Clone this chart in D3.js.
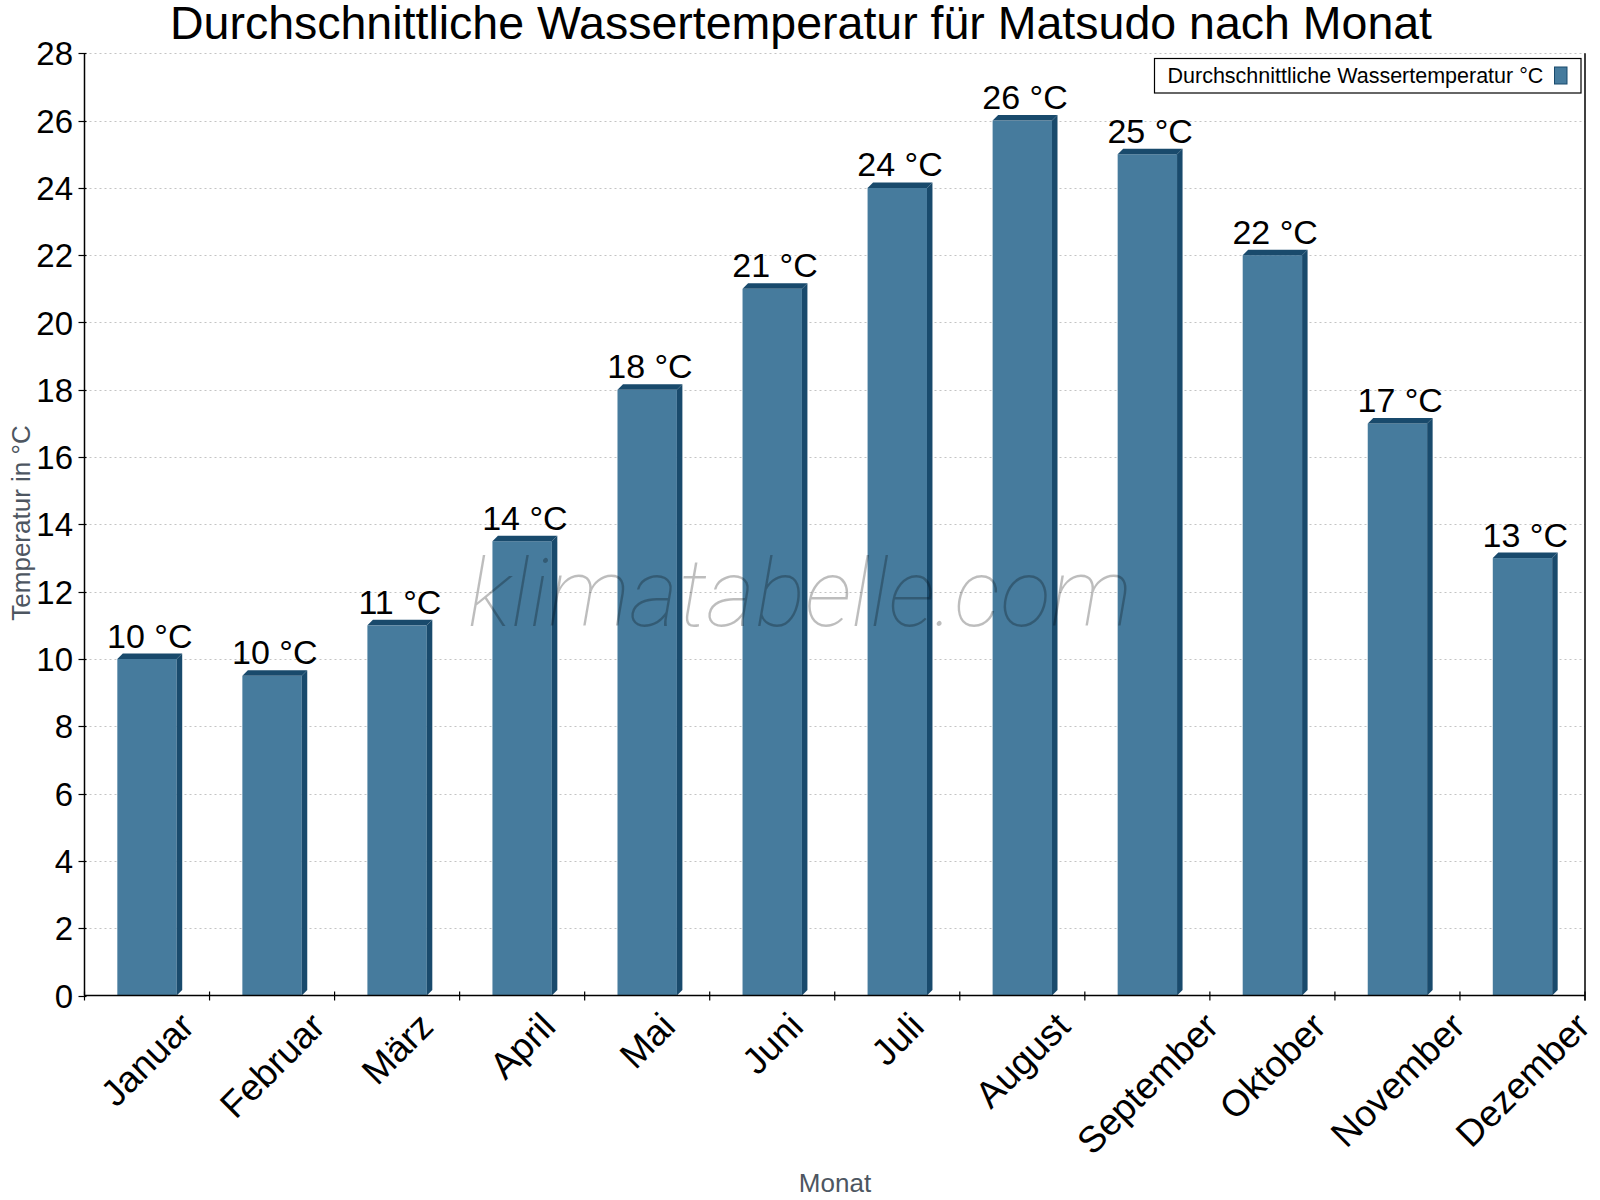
<!DOCTYPE html>
<html>
<head>
<meta charset="utf-8">
<script src="https://cdn.jsdelivr.net/npm/d3@7"></script>
<style>
  html, body { margin: 0; padding: 0; background: #fff; }
  svg { display: block; font-family: "Liberation Sans", Arial, sans-serif; }
</style>
</head>
<body>
<svg id="chart" width="1600" height="1200"></svg>
<script>
const months = ["Januar","Februar","März","April","Mai","Juni","Juli","August","September","Oktober","November","Dezember"];
const waterTemp = [10, 9.5, 11, 13.5, 18, 21, 24, 26, 25, 22, 17, 13];
const valueLabels = ["10 °C","10 °C","11 °C","14 °C","18 °C","21 °C","24 °C","26 °C","25 °C","22 °C","17 °C","13 °C"];
const yTicks = [0,2,4,6,8,10,12,14,16,18,20,22,24,26,28];
const titleText = "Durchschnittliche Wassertemperatur für Matsudo nach Monat";
const legendText = "Durchschnittliche Wassertemperatur °C";
const yTitle = "Temperatur in °C";
const xTitle = "Monat";

(function () {
const svg = d3.select("#chart");
const pLeft = 84.5, pRight = 1585, pTop = 53.3, pBottom = 995.5;
const x = d3.scaleBand().domain(months).range([pLeft, pRight]).padding(0);
const y = d3.scaleLinear().domain([0, 28]).range([pBottom, pTop]);
const bw = x.bandwidth();
const barW = bw * 0.475;
const d = 5.5;
const front = "#467B9D", dark = "#194A6C";

// grid
svg.append("g").selectAll("line").data(yTicks.filter(t => t > 0)).join("line")
  .attr("x1", pLeft).attr("x2", pRight)
  .attr("y1", t => Math.round(y(t)) + 0.5).attr("y2", t => Math.round(y(t)) + 0.5)
  .attr("stroke", "#c4c4c4").attr("stroke-width", 1).attr("stroke-dasharray", "2,3");

// bars
const bars = svg.append("g");
months.forEach((m, i) => {
  const v = waterTemp[i];
  const x0 = x(m) + (bw - barW) / 2;
  const x1 = x0 + barW;
  const yt = y(v), yb = y(0);
  const g = bars.append("g");
  g.append("rect").attr("x", x0).attr("y", yt).attr("width", barW).attr("height", yb - yt).attr("fill", front);
  g.append("path").attr("d", `M${x0},${yt} L${x0 + d},${yt - d} L${x1 + d},${yt - d} L${x1},${yt} Z`).attr("fill", dark);
  g.append("path").attr("d", `M${x1},${yt} L${x1 + d},${yt - d} L${x1 + d},${yb - d} L${x1},${yb} Z`).attr("fill", dark);
  g.append("text").attr("x", x0 + (barW + d) / 2).attr("y", yt - d - 6)
    .attr("text-anchor", "middle").style("font-size", "34px").attr("fill", "#000")
    .text(valueLabels[i]);
});

// watermark (semi-transparent, over bars)
svg.append("text").attr("x", 800).attr("y", 626)
  .attr("text-anchor", "middle")
  .style("font-family", "Roboto, 'Open Sans', sans-serif")
  .style("font-weight", 100).style("font-style", "italic")
  .style("font-size", "94px").attr("fill", "#000").attr("fill-opacity", 0.26)
  .text("klimatabelle.com");

// y axis
const yAxis = svg.append("g");
yAxis.append("line").attr("x1", pLeft).attr("x2", pLeft).attr("y1", pTop).attr("y2", pBottom).attr("stroke", "#000").attr("stroke-width", 1.5);
yAxis.selectAll("line.tick").data(yTicks).join("line").attr("class", "tick")
  .attr("x1", pLeft - 6).attr("x2", pLeft + 2)
  .attr("y1", t => Math.round(y(t)) + 0.5).attr("y2", t => Math.round(y(t)) + 0.5)
  .attr("stroke", "#000").attr("stroke-width", 1.2);
yAxis.selectAll("text").data(yTicks).join("text")
  .attr("x", 73).attr("y", t => y(t) + 12)
  .attr("text-anchor", "end").style("font-size", "33px").attr("fill", "#000")
  .text(t => t);

// right border
svg.append("line").attr("x1", pRight).attr("x2", pRight).attr("y1", pTop).attr("y2", pBottom + 5).attr("stroke", "#000").attr("stroke-width", 1.5);

// x axis
const xAxis = svg.append("g");
xAxis.append("line").attr("x1", pLeft).attr("x2", pRight).attr("y1", pBottom).attr("y2", pBottom).attr("stroke", "#000").attr("stroke-width", 1.5);
const bounds = months.map(m => x(m)).concat([pRight]);
xAxis.selectAll("line.tick").data(bounds).join("line").attr("class", "tick")
  .attr("x1", b => b).attr("x2", b => b).attr("y1", pBottom - 4).attr("y2", pBottom + 5)
  .attr("stroke", "#000").attr("stroke-width", 1.2);
const xFont = 37;
xAxis.selectAll("text").data(months).join("text")
  .style("font-size", xFont + "px").attr("fill", "#000")
  .attr("text-anchor", "middle").attr("dy", "0.35em")
  .text(m => m)
  .each(function(m) {
    const L = this.getComputedTextLength();
    const h = 0.72 * xFont;
    const cx = x(m) + bw / 2;
    const cy = 1010 + (L + h) * Math.SQRT1_2 / 2;
    d3.select(this).attr("transform", `translate(${cx},${cy}) rotate(-45)`);
  });

// title
svg.append("text").attr("x", 801).attr("y", 39).attr("text-anchor", "middle")
  .style("font-size", "46.5px").attr("fill", "#000").text(titleText);

// axis titles
svg.append("text").attr("transform", `translate(30,523) rotate(-90)`).attr("text-anchor", "middle")
  .style("font-size", "26px").attr("fill", "#4d5661").text(yTitle);
svg.append("text").attr("x", 835).attr("y", 1192).attr("text-anchor", "middle")
  .style("font-size", "26px").attr("fill", "#4d5661").text(xTitle);

// legend
const lg = svg.append("g");
lg.append("rect").attr("x", 1154.5).attr("y", 58.5).attr("width", 426.5).attr("height", 34.5)
  .attr("fill", "#fff").attr("stroke", "#000").attr("stroke-width", 1.2);
lg.append("text").attr("x", 1167.5).attr("y", 82.5).style("font-size", "21.5px").attr("fill", "#000").text(legendText);
lg.append("rect").attr("x", 1554.5).attr("y", 67).attr("width", 12.5).attr("height", 17)
  .attr("fill", front).attr("stroke", dark).attr("stroke-width", 1);
})();
</script>
</body>
</html>
